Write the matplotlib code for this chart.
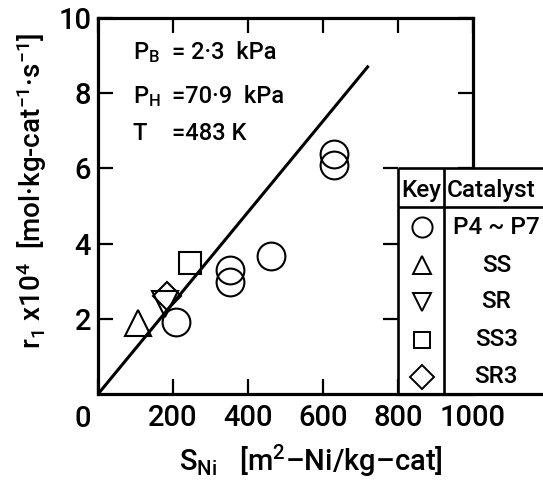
import matplotlib
matplotlib.use('Agg')
import matplotlib.pyplot as plt
from matplotlib.patches import Rectangle
from matplotlib.lines import TICKLEFT

# --- data ---
p_x = [629, 629, 352, 352, 460, 208]      # P4 ~ P7
p_y = [6.38, 6.09, 3.30, 2.98, 3.67, 1.92]
ss_x, ss_y = [107], [1.90]                # SS
sr_x, sr_y = [179], [2.39]                # SR
ss3_x, ss3_y = [246], [3.48]              # SS3
sr3_x, sr3_y = [185], [2.60]              # SR3
fit_x = [0, 719]
fit_y = [0, 8.70]

catalysts = ['P4 ~ P7', 'SS', 'SR', 'SS3', 'SR3']
markers = ['o', '^', 'v', 's', 'D']
key_sizes = [14.5, 13, 13, 12, 12.5]
data_sizes = [20, 19, 19, 16.5, 14.5]

x_ticks = [0, 200, 400, 600, 800, 1000]
x_labels = ['', '200', '400', '600', '800', '1000']
y_ticks = [2, 4, 6, 8, 10]

# --- style ---
plt.rcParams['font.family'] = ['Roboto', 'DejaVu Sans']
plt.rcParams['font.weight'] = 'medium'
plt.rcParams['axes.labelweight'] = 'medium'
plt.rcParams['mathtext.fontset'] = 'custom'
plt.rcParams['mathtext.rm'] = 'Roboto:medium'
plt.rcParams['mathtext.it'] = 'Roboto:medium'
plt.rcParams['mathtext.default'] = 'regular'

LW = 2.3
TICK_LEN = 11

fig = plt.figure(figsize=(5.43, 4.8), dpi=100)
ax = fig.add_axes([0.1805, 0.179, 0.6906, 0.7835])
ax.set_xlim(0, 1000)
ax.set_ylim(0, 10)

for s in ax.spines.values():
    s.set_linewidth(LW)
ax.spines['right'].set_bounds(6, 10)

ax.set_xticks(x_ticks)
ax.set_xticklabels(x_labels)
ax.set_yticks(y_ticks)
ax.tick_params(direction='in', length=TICK_LEN, width=1.6, top=True, right=True,
               labelsize=21, colors='black')
ax.tick_params(axis='x', pad=7)
ax.tick_params(axis='y', pad=5)
# shared origin label
ax.text(-0.04, -0.03, '0', transform=ax.transAxes, ha='center', va='top', fontsize=21)

# fitted line and data
ax.plot(fit_x, fit_y, color='black', lw=2.2, zorder=3)
series = [(p_x, p_y), (ss_x, ss_y), (sr_x, sr_y), (ss3_x, ss3_y), (sr3_x, sr3_y)]
for (xs, ys), m, ms in zip(series, markers, data_sizes):
    ax.plot(xs, ys, ls='none', marker=m, ms=ms, mfc='none', mec='black', mew=1.5, zorder=4)

# conditions
cond_names = ['P$_B$', 'P$_H$', 'T']
cond_vals = ['= 2·3  kPa', '=70·9  kPa', '=483 K']
cond_y = [0.891, 0.774, 0.676]
for n, v, yy in zip(cond_names, cond_vals, cond_y):
    ax.text(0.093, yy, n, transform=ax.transAxes, fontsize=17, va='baseline')
    ax.text(0.196, yy, v, transform=ax.transAxes, fontsize=17, va='baseline')

# key table drawn over the lower right corner
tab_left, tab_div, tab_right = 800, 922, 1250
tab_top, tab_head = 6, 4.97
ax.add_patch(Rectangle((tab_left, -0.05), tab_right - tab_left, tab_top + 0.05,
                       facecolor='white', edgecolor='none', zorder=5, clip_on=False))
tkw = dict(color='black', lw=1.9, zorder=6, clip_on=False, solid_capstyle='butt')
ax.plot([tab_left, tab_left], [0, tab_top], **tkw)
ax.plot([tab_div, tab_div], [0, tab_top], **tkw)
ax.plot([tab_left, tab_right], [tab_top, tab_top], **tkw)
ax.plot([tab_left, tab_right], [tab_head, tab_head], **tkw)
ax.plot([tab_left, tab_right], [0, 0], color='black', lw=LW, zorder=6, clip_on=False)
ax.plot([tab_left] * 3, [2, 4, 6], ls='none', marker=TICKLEFT, ms=TICK_LEN, mew=1.6,
        color='black', zorder=6, clip_on=False)

ax.text(861, 5.47, 'Key', ha='center', va='center_baseline', fontsize=17.5, zorder=7, clip_on=False)
ax.text(930, 5.47, 'Catalyst', ha='left', va='center_baseline', fontsize=17.5, zorder=7, clip_on=False)
row_y = [4.44, 3.42, 2.45, 1.45, 0.46]
for name, m, ms, ry in zip(catalysts, markers, key_sizes, row_y):
    ax.plot([864], [ry], ls='none', marker=m, ms=ms, mfc='none', mec='black', mew=1.4,
            zorder=7, clip_on=False)
    ax.text(1062, ry, name, ha='center', va='center', fontsize=17.5, zorder=7, clip_on=False)

ax.set_xlabel('S$_{Ni}$   [m$^2$–Ni/kg–cat]', fontsize=21)
ax.xaxis.set_label_coords(0.568, -0.13)
ax.set_ylabel('r$_1$ x10$^4$  [mol·kg-cat$^{-1}$·s$^{-1}$]', fontsize=20)
ax.yaxis.set_label_coords(-0.13, 0.54)

fig.savefig('out.png', dpi=100)
